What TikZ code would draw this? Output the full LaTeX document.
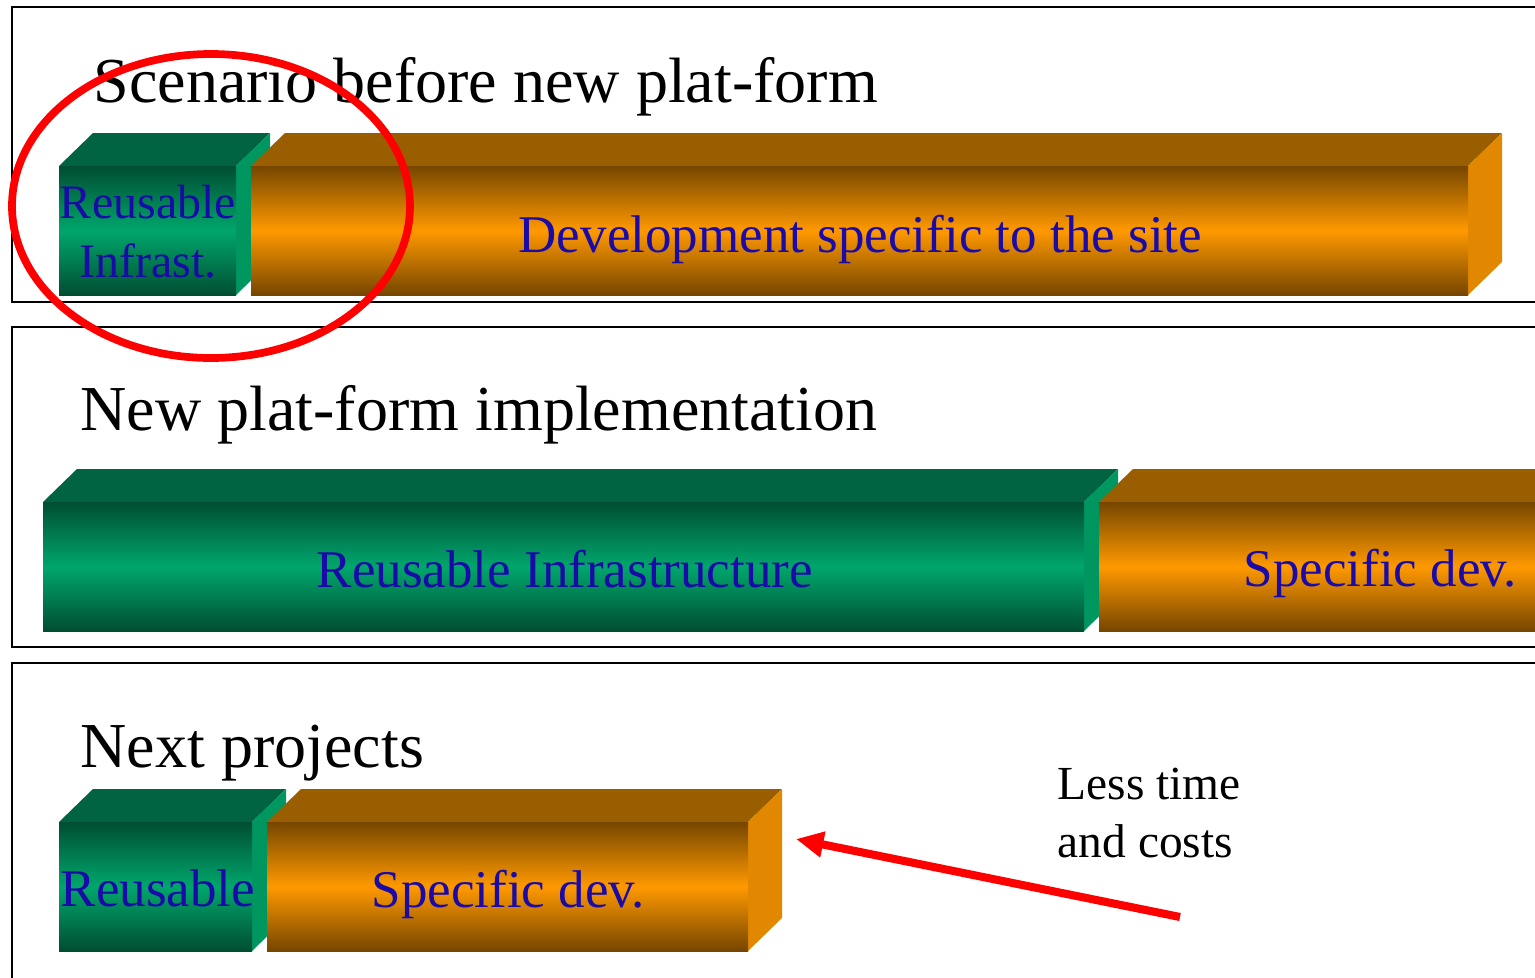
\documentclass[tikz,border=0pt]{standalone}
\usepackage{fontspec}
\setmainfont{Liberation Serif}
\usetikzlibrary{arrows.meta}
\definecolor{txtblue}{RGB}{26,10,168}
\definecolor{gdark}{RGB}{0,78,50}
\definecolor{gmid}{RGB}{0,166,108}
\definecolor{gtop}{RGB}{0,100,66}
\definecolor{gside}{RGB}{0,150,96}
\definecolor{odark}{RGB}{118,70,0}
\definecolor{omid}{RGB}{255,153,0}
\definecolor{otop}{RGB}{153,94,0}
\definecolor{oside}{RGB}{226,136,0}
\definecolor{ellred}{RGB}{255,0,0}
% #1 x left, #2 x right, #3 y front top, #4 y front bottom, #5 colour prefix
\newcommand\mycuboid[5]{%
  \fill[#5top] (#1,#3) -- (#1+34,#3-33) -- (#2+34,#3-33) -- (#2,#3) -- cycle;
  \fill[#5side] (#2,#3) -- (#2+34,#3-33) -- (#2+34,#4-33) -- (#2,#4) -- cycle;
  \shade[top color=#5dark, bottom color=#5dark, middle color=#5mid] (#1,#3) rectangle (#2,#4);
}
\tikzset{
  panelframe/.style={draw=black, line width=0.75pt},
  titletext/.style={anchor=base west, inner sep=0pt, font=\fontsize{18.21pt}{20pt}\selectfont},
  bluetext/.style={anchor=base west, inner sep=0pt, text=txtblue, font=\fontsize{15.08pt}{17pt}\selectfont},
  smallblue/.style={anchor=base, inner sep=0pt, text=txtblue, font=\fontsize{13.66pt}{15pt}\selectfont},
  notetext/.style={anchor=base west, inner sep=0pt, font=\fontsize{13.49pt}{15pt}\selectfont},
  redmark/.style={draw=ellred, line width=2.2pt},
  redarrow/.style={draw=red, line width=2.3pt, -{Triangle[length=7.8pt,width=7pt]}}
}
\begin{document}
\begin{tikzpicture}[x=0.01cm, y=-0.01cm]
\useasboundingbox (0,0) rectangle (1535,978);
\clip (0,0) rectangle (1535,978);
% panel frames
\draw[panelframe] (12,7) rectangle (1600,302);
\draw[panelframe] (12,327) rectangle (1600,647);
\draw[panelframe] (12,663) rectangle (1600,1100);
% panel 1 bars
\mycuboid{59}{236}{166}{295}{g}
\mycuboid{251}{1468}{166}{295}{o}
% panel 2 bars
\mycuboid{43}{1084}{502}{631}{g}
\mycuboid{1099}{1650}{502}{631}{o}
% panel 3 bars
\mycuboid{59}{252}{822}{951}{g}
\mycuboid{267}{748}{822}{951}{o}
% titles
\node[titletext] (t1) at (93,102) {Scenario before new plat-form};
\node[titletext] (t2) at (80,430) {New plat-form implementation};
\node[titletext] (t3) at (80,767) {Next projects};
% bar labels
\node[smallblue] (ri1) at (148,218) {Reusable};
\node[smallblue] (ri2) at (148,277) {Infrast.};
\node[bluetext] (dev) at (518,252) {Development specific to the site};
\node[bluetext] (rinf) at (316,587) {Reusable Infrastructure};
\node[bluetext] (sd2) at (1243,586) {Specific dev.};
\node[bluetext] (re3) at (60,906) {Reusable};
\node[bluetext] (sd3) at (371,907) {Specific dev.};
% note
\node[notetext] (lt1) at (1057,799) {Less time};
\node[notetext] (lt2) at (1057,857) {and costs};
% red ellipse
\draw[redmark] (211,206) ellipse [x radius=199, y radius=152];
% red arrow
\coordinate (arrtail) at (1180,917);
\coordinate (arrtip) at (796,839);
\draw[redarrow] (arrtail) -- (arrtip);
\end{tikzpicture}
\end{document}
